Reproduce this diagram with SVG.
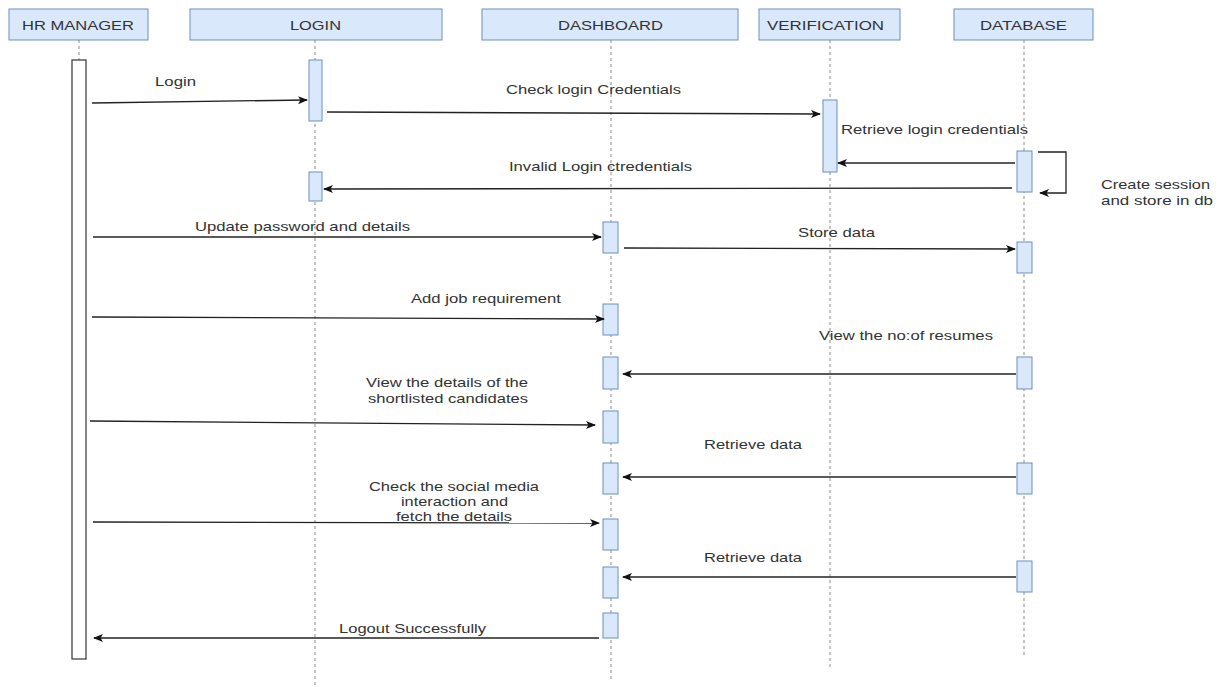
<svg xmlns="http://www.w3.org/2000/svg" width="1223" height="687" viewBox="0 0 1223 687">
<style>
.hdr{fill:#dae8fc;stroke:#6c8ebf;stroke-width:1}
.act{fill:#dae8fc;stroke:#6c8ebf;stroke-width:1}
.life{stroke:#8a8a8a;stroke-width:1;stroke-dasharray:3 3;fill:none}
.msg{stroke:#222;stroke-width:1.3;fill:none;marker-end:url(#ah)}
text{font-family:"Liberation Sans",Arial,sans-serif;font-size:13px;fill:#333}
</style>
<defs>
<marker id="ah" viewBox="0 0 10 10" refX="9" refY="5" markerWidth="10" markerHeight="10" markerUnits="userSpaceOnUse" orient="auto">
<path d="M0,1 L10,5 L0,9 L2.5,5 Z" fill="#111"/>
</marker>
</defs>
<rect width="1223" height="687" fill="#fff"/>
<g id="lifelines">
<line class="life" x1="79" y1="40" x2="79" y2="60"/>
<line class="life" x1="315" y1="40" x2="315" y2="687"/>
<line class="life" x1="611" y1="40" x2="611" y2="680"/>
<line class="life" x1="830" y1="40" x2="830" y2="670"/>
<line class="life" x1="1024" y1="40" x2="1024" y2="658"/>
</g>
<g id="hr-manager">
<rect class="hdr" x="9" y="9" width="139" height="31"/>
<text x="22" y="30" textLength="112" lengthAdjust="spacingAndGlyphs">HR MANAGER</text>
<rect x="72" y="60" width="14" height="599" fill="#fff" stroke="#333" stroke-width="1.2"/>
</g>
<g id="login">
<rect class="hdr" x="190" y="9" width="252" height="31"/>
<text x="290" y="30" textLength="51" lengthAdjust="spacingAndGlyphs">LOGIN</text>
<rect class="act" x="309" y="60" width="13" height="61"/>
<rect class="act" x="309" y="172" width="13" height="29"/>
</g>
<g id="dashboard">
<rect class="hdr" x="482" y="9" width="256" height="31"/>
<text x="558" y="30" textLength="105" lengthAdjust="spacingAndGlyphs">DASHBOARD</text>
<rect class="act" x="603" y="222" width="15" height="31"/>
<rect class="act" x="603" y="304" width="15" height="31"/>
<rect class="act" x="603" y="357" width="15" height="32"/>
<rect class="act" x="603" y="411" width="15" height="32"/>
<rect class="act" x="603" y="463" width="15" height="31"/>
<rect class="act" x="603" y="519" width="15" height="31"/>
<rect class="act" x="603" y="567" width="15" height="31"/>
<rect class="act" x="603" y="613" width="15" height="25"/>
</g>
<g id="verification">
<rect class="hdr" x="759" y="9" width="141" height="31"/>
<text x="767" y="30" textLength="117" lengthAdjust="spacingAndGlyphs">VERIFICATION</text>
<rect class="act" x="823" y="100" width="14" height="72"/>
</g>
<g id="database">
<rect class="hdr" x="954" y="9" width="139" height="31"/>
<text x="980" y="30" textLength="87" lengthAdjust="spacingAndGlyphs">DATABASE</text>
<rect class="act" x="1017" y="151" width="15" height="41"/>
<rect class="act" x="1017" y="242" width="15" height="31"/>
<rect class="act" x="1017" y="357" width="15" height="32"/>
<rect class="act" x="1017" y="463" width="15" height="31"/>
<rect class="act" x="1017" y="561" width="15" height="31"/>
</g>
<g id="connectors">
<line class="msg" x1="92" y1="103" x2="307" y2="100"/>
<line class="msg" x1="327" y1="112" x2="820" y2="114"/>
<line class="msg" x1="1015" y1="163" x2="838" y2="163"/>
<polyline class="msg" points="1038,152 1066,152 1066,193 1040,193"/>
<line class="msg" x1="1012" y1="188" x2="324" y2="189"/>
<line class="msg" x1="93" y1="237" x2="601" y2="237"/>
<line class="msg" x1="624" y1="248" x2="1015" y2="249"/>
<line class="msg" x1="92" y1="317" x2="604" y2="319"/>
<line class="msg" x1="1016" y1="374" x2="623" y2="374"/>
<line class="msg" x1="90" y1="421" x2="595" y2="425"/>
<line class="msg" x1="1016" y1="477" x2="623" y2="477"/>
<line class="msg" x1="93" y1="522" x2="599" y2="523"/>
<line class="msg" x1="1016" y1="577" x2="623" y2="577"/>
<line class="msg" x1="599" y1="638" x2="94" y2="638"/>
</g>
<g id="labels">
<text x="155" y="86" textLength="41" lengthAdjust="spacingAndGlyphs">Login</text>
<text x="506" y="94" textLength="175" lengthAdjust="spacingAndGlyphs">Check login Credentials</text>
<text x="841" y="134" textLength="187" lengthAdjust="spacingAndGlyphs">Retrieve login credentials</text>
<text x="1101" y="189" textLength="109" lengthAdjust="spacingAndGlyphs">Create session</text>
<text x="1101" y="205" textLength="112" lengthAdjust="spacingAndGlyphs">and store in db</text>
<text x="509" y="171" textLength="183" lengthAdjust="spacingAndGlyphs">Invalid Login ctredentials</text>
<text x="195" y="231" textLength="215" lengthAdjust="spacingAndGlyphs">Update password and details</text>
<text x="798" y="237" textLength="77" lengthAdjust="spacingAndGlyphs">Store data</text>
<text x="411" y="303" textLength="150" lengthAdjust="spacingAndGlyphs">Add job requirement</text>
<text x="819" y="340" textLength="174" lengthAdjust="spacingAndGlyphs">View the no:of resumes</text>
<text x="366" y="387" textLength="162" lengthAdjust="spacingAndGlyphs">View the details of the</text>
<text x="368" y="403" textLength="160" lengthAdjust="spacingAndGlyphs">shortlisted candidates</text>
<text x="704" y="449" textLength="98" lengthAdjust="spacingAndGlyphs">Retrieve data</text>
<text x="369" y="491" textLength="170" lengthAdjust="spacingAndGlyphs">Check the social media</text>
<text x="401" y="506" textLength="107" lengthAdjust="spacingAndGlyphs">interaction and</text>
<text x="396" y="521" textLength="116" lengthAdjust="spacingAndGlyphs">fetch the details</text>
<text x="704" y="562" textLength="98" lengthAdjust="spacingAndGlyphs">Retrieve data</text>
<text x="339" y="633" textLength="147" lengthAdjust="spacingAndGlyphs">Logout Successfully</text>
</g>
</svg>
